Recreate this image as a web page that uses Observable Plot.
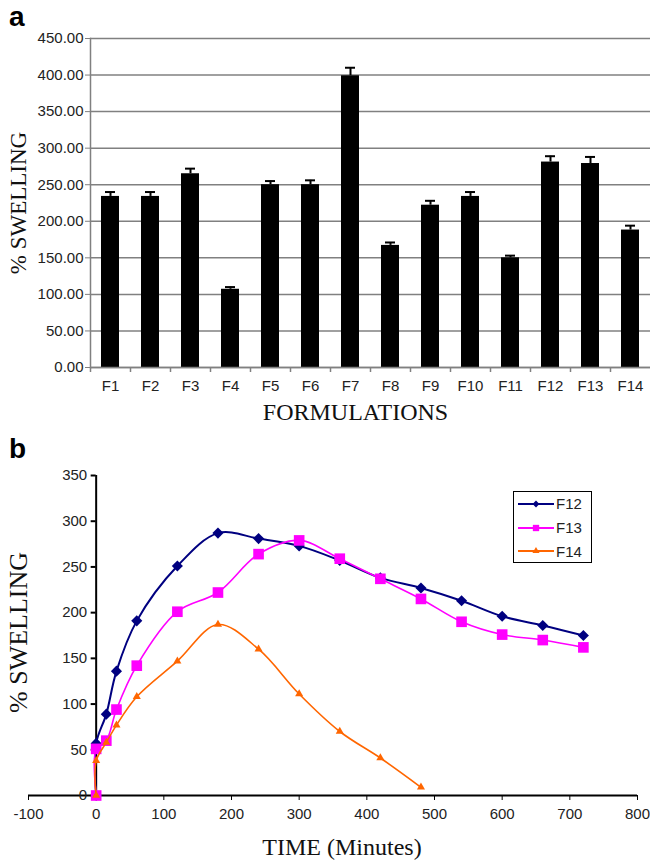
<!DOCTYPE html>
<html><head><meta charset="utf-8">
<script src="https://cdn.jsdelivr.net/npm/d3@7"></script>
<script src="https://cdn.jsdelivr.net/npm/@observablehq/plot@0.6"></script>
<style>
body{margin:0;background:#fff;}
#wrap{position:relative;width:650px;height:861px;overflow:hidden;background:#fff;}
#wrap svg{position:absolute;left:0;}
.panel{position:absolute;left:9px;font:bold 28px "Liberation Sans",Arial,sans-serif;line-height:28px;color:#000;}
#legend{position:absolute;left:513px;top:491px;width:79px;height:72px;box-sizing:border-box;border:1.5px solid #000;background:#fff;padding-top:0px;}
#legend .row{height:23.7px;display:flex;align-items:center;font:15px "Liberation Sans",Arial,sans-serif;color:#222;}
#legend svg{position:static;margin-left:4px;margin-right:2px;}
</style></head><body><div id="wrap"></div>
<script>
// ---- Panel a data ----
const formulations = ["F1","F2","F3","F4","F5","F6","F7","F8","F9","F10","F11","F12","F13","F14"];
const swellingMean = [234, 234, 265, 107, 250, 250, 399, 167, 222, 234, 150, 281, 279, 188];
const swellingErr  = [6, 6, 7, 3, 5, 6, 11, 4, 6, 6, 3, 8, 9, 6];
const yTicksA = [0, 50, 100, 150, 200, 250, 300, 350, 400, 450];

// ---- Panel b data ----
const timeMinutes = [0, 0, 15, 30, 60, 120, 180, 240, 300, 360, 420, 480, 540, 600, 660, 720];
const f12 = [0, 57, 89, 136, 191, 251, 287, 281, 273, 257, 238, 227, 213, 196, 186, 175];
const f13 = [0, 51, 60, 94, 142, 201, 222, 264, 279, 259, 237, 215, 190, 176, 170, 162];
const f14 = [0, 38, 58, 77, 108, 147, 187, 160, 111, 70, 41, 9];
const seriesNames = ["F12", "F13", "F14"];
const seriesColors = ["#000080", "#FF00FF", "#FF6600"];
const xTicksB = [-100, 0, 100, 200, 300, 400, 500, 600, 700, 800];
const yTicksB = [0, 50, 100, 150, 200, 250, 300, 350];

const sans = '"Liberation Sans", Arial, sans-serif';
const serif = '"Liberation Serif", "Times New Roman", serif';
const wrap = document.getElementById("wrap");
const zero = () => 0;

// ---- Panel a ----
const bars = formulations.map((f, i) => ({f, v: swellingMean[i], e: swellingErr[i]}));
const plotA = Plot.plot({
  width: 650, height: 430,
  marginLeft: 90, marginRight: 0, marginTop: 38, marginBottom: 63,
  style: {fontFamily: sans, fontSize: "15px", color: "#222", background: "white"},
  x: {domain: formulations, paddingInner: 0.55, paddingOuter: 0.275, label: null},
  y: {domain: [0, 450], label: null},
  marks: [
    Plot.gridY(yTicksA, {stroke: "#808080", strokeOpacity: 1, strokeWidth: 1.5}),
    Plot.barY(bars, {x: "f", y: "v", fill: "black"}),
    Plot.ruleX(bars, {x: "f", y1: "v", y2: d => d.v + d.e, stroke: "black", strokeWidth: 2}),
    Plot.tickY(bars, {x: "f", y: d => d.v + d.e, stroke: "black", strokeWidth: 2, insetLeft: 4, insetRight: 4}),
    Plot.ruleX(formulations, {x: d => d, y1: zero, y2: zero, insetTop: 5, dx: -20, stroke: "#808080", strokeWidth: 1.5}),
    Plot.ruleY([0], {stroke: "#808080", strokeWidth: 1.5}),
    Plot.frame({anchor: "left", stroke: "#808080", strokeWidth: 1.5}),
    Plot.axisY(yTicksA, {tickSize: 5, tickPadding: 2, tickFormat: d => d.toFixed(2), stroke: "#808080", label: null}),
    Plot.axisX({tickSize: 0, tickPadding: 13, label: null}),
    Plot.text(["% SWELLING"], {text: d => d, frameAnchor: "left", rotate: -90, textAnchor: "middle", lineAnchor: "middle", dx: -72, fontFamily: serif, fontSize: 23, fill: "#111"}),
    Plot.text(["FORMULATIONS"], {text: d => d, frameAnchor: "bottom", textAnchor: "middle", lineAnchor: "middle", dx: -15, dy: 45, fontFamily: serif, fontSize: 24, fill: "#111"})
  ]
});
plotA.style.top = "0px";
wrap.appendChild(plotA);

// ---- Panel b ----
const symbols = ["diamond2", "square", "triangle"];
const radii = [5, 6, 3];
const widths = [2, 1.6, 1.6];
const seriesData = [f12, f13, f14];
const rows = [];
seriesData.forEach((vals, s) => vals.forEach((v, i) => rows.push({s: seriesNames[s], t: timeMinutes[i], v})));
const seriesMarks = [];
seriesNames.forEach((name, s) => {
  const d = rows.filter(r => r.s === name);
  seriesMarks.push(Plot.line(d, {x: "t", y: "v", stroke: seriesColors[s], strokeWidth: widths[s], curve: "catmull-rom"}));
  seriesMarks.push(Plot.dot(d, {x: "t", y: "v", fill: seriesColors[s], stroke: "none", symbol: symbols[s], r: radii[s]}));
});
const plotB = Plot.plot({
  width: 650, height: 431,
  marginLeft: 28, marginRight: 13, marginTop: 45, marginBottom: 66,
  style: {fontFamily: sans, fontSize: "15px", color: "#222", background: "white"},
  x: {domain: [-100, 800], label: null},
  y: {domain: [0, 350], label: null, axis: null},
  marks: [
    Plot.ruleY([0], {stroke: "black", strokeWidth: 2}),
    Plot.axisX(xTicksB, {tickSize: 5, tickPadding: 8, tickFormat: d => String(d), stroke: "black", label: null}),
    Plot.ruleX([0], {stroke: "black", strokeWidth: 2}),
    Plot.ruleY(yTicksB, {y: d => d, x1: zero, x2: zero, insetLeft: -5, stroke: "black", strokeWidth: 2}),
    Plot.text(yTicksB, {x: zero, y: d => d, text: d => String(d), textAnchor: "end", dx: -9, fill: "#222"}),
    ...seriesMarks,
    Plot.text(["% SWELLING"], {text: d => d, frameAnchor: "left", rotate: -90, textAnchor: "middle", lineAnchor: "middle", dx: -10, dy: -3, fontFamily: serif, fontSize: 26, fill: "#111"}),
    Plot.text(["TIME (Minutes)"], {text: d => d, frameAnchor: "bottom", textAnchor: "middle", lineAnchor: "middle", dx: 9, dy: 52, fontFamily: serif, fontSize: 24, fill: "#111"})
  ]
});
plotB.style.top = "430px";
wrap.appendChild(plotB);

// panel letters
const la = document.createElement("div"); la.className = "panel"; la.style.top = "3px"; la.textContent = "a"; wrap.appendChild(la);
const lb = document.createElement("div"); lb.className = "panel"; lb.style.top = "435px"; lb.textContent = "b"; wrap.appendChild(lb);

// legend
const leg = document.createElement("div"); leg.id = "legend";
const d3sym = [d3.symbolDiamond2, d3.symbolSquare, d3.symbolTriangle];
const legSizes = [30, 40, 22];
seriesNames.forEach((name, s) => {
  const row = document.createElement("div"); row.className = "row";
  const svg = d3.create("svg").attr("width", 36).attr("height", 12);
  svg.append("line").attr("x1", 0).attr("x2", 36).attr("y1", 6).attr("y2", 6).attr("stroke", seriesColors[s]).attr("stroke-width", 2);
  svg.append("path").attr("d", d3.symbol(d3sym[s], legSizes[s])()).attr("transform", "translate(18,6)").attr("fill", seriesColors[s]);
  row.appendChild(svg.node());
  const tx = document.createElement("span"); tx.textContent = name; row.appendChild(tx);
  leg.appendChild(row);
});
wrap.appendChild(leg);
</script>
</body></html>
